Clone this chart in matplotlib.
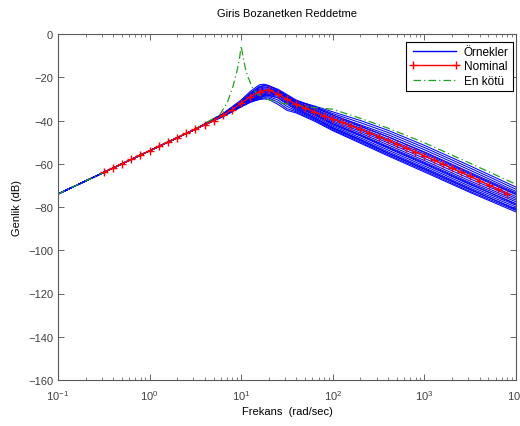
import numpy as np
import matplotlib
matplotlib.use('Agg')
import matplotlib.pyplot as plt

plt.rcParams['font.family'] = ['Liberation Sans', 'DejaVu Sans']
plt.rcParams['axes.unicode_minus'] = True

# --- veriler ---
# orneklerin frekans noktalari (rad/sec)
w_ornek = [0.1, 0.316, 1.0, 3.16, 6.31, 10.0, 12.6, 15.8, 17.8, 20.0, 25.1, 31.6,
           39.8, 63.1, 100.0, 200.0, 398.0, 1000.0, 3162.0, 10000.0]

# ornek egriler (dB)
ornekler = [
    [-74, -64, -54, -44, -36.8, -30.5, -26.5, -23.5, -23.2, -23.8, -26.0, -28.5, -31.0, -33.3, -36.0, -40.0, -44.5, -51.5, -61.0, -70.8],
    [-74, -64, -54, -44, -37.0, -31.0, -27.2, -24.2, -23.8, -24.2, -26.0, -28.5, -31.0, -33.6, -36.8, -41.0, -45.5, -52.5, -62.0, -71.8],
    [-74, -64, -54, -44, -37.1, -31.2, -27.5, -24.6, -24.0, -24.0, -25.5, -28.0, -30.5, -33.7, -37.5, -42.5, -47.5, -54.8, -64.5, -74.0],
    [-74, -64, -54, -44, -37.2, -31.3, -27.8, -25.0, -24.5, -24.8, -26.5, -29.0, -31.5, -34.2, -37.5, -42.0, -46.5, -53.5, -63.0, -72.8],
    [-74, -64, -54, -44, -37.3, -31.6, -28.2, -25.5, -25.0, -25.0, -26.5, -29.0, -31.8, -34.7, -38.2, -42.8, -47.5, -54.5, -64.0, -73.5],
    [-74, -64, -54, -44, -37.4, -31.8, -28.6, -26.0, -25.5, -25.5, -27.0, -29.5, -32.0, -35.1, -38.8, -43.5, -48.5, -55.5, -65.0, -74.3],
    [-74, -64, -54, -44, -37.5, -32.0, -29.0, -26.6, -26.0, -25.8, -27.0, -29.5, -32.2, -35.5, -39.5, -44.3, -49.5, -56.5, -66.0, -75.2],
    [-74, -64, -54, -44, -37.6, -32.2, -29.2, -26.8, -26.2, -26.5, -28.0, -31.0, -33.8, -37.3, -41.5, -46.8, -52.4, -59.8, -69.3, -78.8],
    [-74, -64, -54, -44, -37.6, -32.3, -29.4, -27.2, -26.6, -26.3, -27.2, -29.8, -32.5, -36.0, -40.2, -45.0, -50.3, -57.5, -67.0, -76.0],
    [-74, -64, -54, -44, -37.7, -32.5, -29.8, -27.8, -27.2, -26.8, -27.5, -30.0, -32.8, -36.5, -40.8, -45.8, -51.2, -58.5, -68.0, -76.8],
    [-74, -64, -54, -44, -37.8, -32.8, -30.2, -28.2, -27.6, -27.3, -27.8, -30.3, -33.0, -36.9, -41.4, -46.5, -52.0, -59.3, -68.8, -77.6],
    [-74, -64, -54, -44, -37.9, -33.0, -30.5, -28.6, -28.0, -27.7, -28.2, -30.8, -33.5, -37.4, -42.0, -47.2, -52.8, -60.2, -69.7, -78.4],
    [-74, -64, -54, -44, -37.9, -33.1, -30.6, -28.8, -28.3, -28.3, -29.5, -32.0, -34.5, -38.7, -43.5, -49.0, -55.0, -62.3, -71.8, -81.2],
    [-74, -64, -54, -44, -38.0, -33.2, -30.8, -29.0, -28.4, -28.0, -28.8, -31.5, -34.2, -38.1, -42.6, -48.0, -53.6, -61.0, -70.5, -79.2],
    [-74, -64, -54, -44, -38.0, -33.4, -31.0, -29.3, -28.8, -28.5, -29.5, -32.5, -35.0, -38.8, -43.2, -48.7, -54.4, -61.8, -71.3, -80.0],
    [-74, -64, -54, -44, -38.1, -33.5, -31.2, -29.6, -29.2, -29.0, -30.5, -33.5, -35.5, -39.3, -43.8, -49.4, -55.2, -62.6, -72.1, -80.8],
    [-74, -64, -54, -44, -38.2, -33.6, -31.4, -30.0, -29.6, -29.6, -31.5, -34.5, -36.0, -39.8, -44.3, -50.0, -55.8, -63.2, -72.8, -81.6],
    [-74, -64, -54, -44, -38.2, -33.7, -31.6, -30.3, -30.0, -30.3, -32.5, -35.3, -36.5, -40.3, -44.7, -50.5, -56.3, -63.8, -73.3, -82.3],
]

# nominal egri: 10^-0.5 ... 10^3.9 arasinda her 0.1 dekadda bir nokta
w_nominal = np.logspace(-0.5, 3.9, 45)
nominal = [-64, -62, -60, -58, -56, -54, -52, -50, -48, -46,
           -44, -42, -40, -37.6, -35, -32, -29, -26.6, -25.8, -27.8,
           -30.2, -32.5, -34.3, -36, -37.8, -39.3, -40.8, -42.4, -44, -45.7,
           -47.4, -49.1, -50.9, -52.7, -54.5, -56.3, -58.2, -60.1, -62, -63.9,
           -65.8, -67.8, -69.8, -71.8, -73.8]

# en kotu durum
w_enkotu = [0.1, 0.316, 1.0, 3.16, 5.01, 5.9, 7.08, 8.1, 9.0, 9.6, 10.0, 10.5, 11.2,
            11.9, 13.3, 14.9, 17.8, 22.4, 28.0, 40.0, 63.0, 100.0, 200.0, 398.0,
            1000.0, 3162.0, 10000.0]
enkotu = [-74, -64, -54, -43.8, -39, -37, -31.5, -24.5, -17, -11, -5.5, -11, -16.5,
          -20, -25, -27.7, -29.8, -31, -32, -33, -34, -34.8, -39, -43.5,
          -50.3, -59.8, -69.5]

fig = plt.figure(figsize=(5.2, 4.27), dpi=100)
ax = fig.add_axes([58 / 520, 46 / 427, 458 / 520, 346 / 427])

mavi = '#0000ff'
for i, y in enumerate(ornekler):
    ax.plot(w_ornek, y, color=mavi, lw=0.75, label='Örnekler' if i == 0 else None)

ax.plot(w_enkotu, enkotu, color='#22a022', lw=0.9, ls=(0, (6, 2.5, 1, 2.5)),
        label='En kötü')
ax.plot(w_nominal, nominal, color='red', lw=1.0, marker='+', ms=6,
        mew=1.0, label='Nominal')

ax.set_xscale('log')
ax.set_xlim(0.1, 1e4)
ax.set_ylim(-160, 0)
ax.set_yticks(np.arange(-160, 1, 20))
ax.tick_params(axis='both', which='both', direction='in', top=True, right=True,
               labelsize=8, colors='0.3', labelcolor='0.25')
ax.tick_params(which='major', length=4, width=0.6)
ax.tick_params(which='minor', length=2, width=0.5)
ax.tick_params(axis='x', which='major', pad=6)
for s in ax.spines.values():
    s.set_color('0.35')
    s.set_linewidth(0.8)

ax.set_title('Giris Bozanetken Reddetme', fontsize=8, pad=13)
ax.set_xlabel('Frekans  (rad/sec)', fontsize=8, labelpad=3)
ax.set_ylabel('Genlik (dB)', fontsize=8, labelpad=4)

handles, labels = ax.get_legend_handles_labels()
sira = ['Örnekler', 'Nominal', 'En kötü']
hs = [handles[labels.index(n)] for n in sira]
leg = ax.legend(hs, sira, loc='upper right', fontsize=8.5, fancybox=False,
                edgecolor='black', framealpha=1, handlelength=4.2, numpoints=2,
                bbox_to_anchor=(513 / 520, (427 - 43) / 427),
                bbox_transform=fig.transFigure, borderaxespad=0,
                handletextpad=0.4, labelspacing=0.2, borderpad=0.35)
leg.get_frame().set_linewidth(0.8)
leg.legend_handles[0].set_linewidth(1.0)

fig.savefig('out.png', dpi=100)
